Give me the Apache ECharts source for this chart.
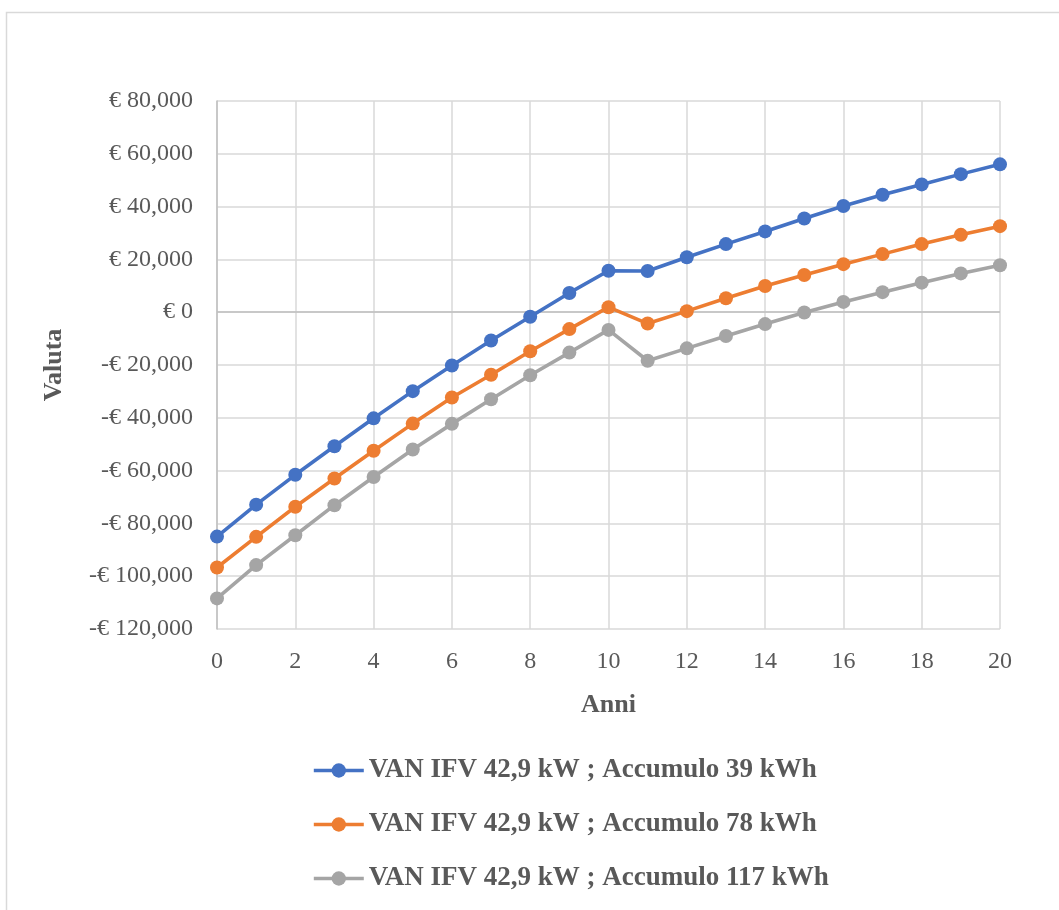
<!DOCTYPE html>
<html>
<head>
<meta charset="utf-8">
<script src="https://cdn.jsdelivr.net/npm/echarts@6/dist/echarts.min.js"></script>
<style>
html,body{margin:0;padding:0;background:#fff;}
#chart{width:1059px;height:910px;}
</style>
</head>
<body>
<div id="chart"></div>
<script>
var years = [0,1,2,3,4,5,6,7,8,9,10,11,12,13,14,15,16,17,18,19,20];
var seriesNames = [
  'VAN IFV 42,9 kW ; Accumulo 39 kWh',
  'VAN IFV 42,9 kW ; Accumulo 78 kWh',
  'VAN IFV 42,9 kW ; Accumulo 117 kWh'
];
var van39 = [-85000,-72900,-61600,-50800,-40200,-29900,-20200,-10700,-1700,7300,15700,15600,20800,25800,30600,35500,40200,44500,48400,52300,56000];
var van78 = [-96700,-85100,-73700,-63000,-52500,-42200,-32300,-23700,-14800,-6400,1900,-4300,400,5300,9900,14100,18200,22000,25800,29300,32600];
var van117 = [-108400,-95800,-84500,-73100,-62400,-52000,-42300,-33000,-23900,-15300,-6700,-18400,-13700,-9000,-4500,-100,3900,7600,11200,14700,17800];
var colors = ['#4472C4','#ED7D31','#A5A5A5'];
var yTicks = {min:-120000, max:80000, interval:20000};
var xTicks = {min:0, max:20, interval:2};

function pairs(arr){ return years.map(function(y,i){ return [y, arr[i]]; }); }
function fmtEuro(v){
  var a = Math.abs(v).toLocaleString('en-US');
  return (v < 0 ? '-€ ' : '€ ') + a;
}
var font = '"Liberation Serif", "DejaVu Serif", serif';
var chart = echarts.init(document.getElementById('chart'), null, {renderer:'canvas'});
var data = [van39, van78, van117];
var series = data.map(function(arr, i){
  var s = {
    name: seriesNames[i],
    type: 'line',
    data: pairs(arr),
    symbol: 'circle',
    symbolSize: 14,
    lineStyle: {color: colors[i], width: 3.6},
    itemStyle: {color: colors[i]},
    z: 10 - i
  };
  if (i === 0) {
    s.markLine = {
      silent: true, symbol: 'none', label: {show:false},
      lineStyle: {color:'#bfbfbf', width:1.5, type:'solid'},
      data: [{yAxis: 0}], z: 1
    };
  }
  return s;
});
chart.setOption({
  animation: false,
  backgroundColor: '#fff',
  color: colors,
  graphic: [{
    type: 'rect', shape: {x: 6.5, y: 12.5, width: 1100, height: 1000},
    style: {fill: 'none', stroke: '#d9d9d9', lineWidth: 1.5}, silent: true
  }],
  grid: {left: 217, right: 59, top: 101, bottom: 281},
  xAxis: {
    type: 'value', min: xTicks.min, max: xTicks.max, interval: xTicks.interval,
    name: 'Anni', nameLocation: 'middle', nameGap: 63,
    nameTextStyle: {fontFamily: font, fontWeight: 'bold', fontSize: 26, color: '#595959'},
    axisLine: {show: false},
    axisTick: {show: false},
    axisLabel: {fontFamily: font, fontSize: 24, color: '#595959', margin: 21},
    splitLine: {show: true, lineStyle: {color: '#d9d9d9', width: 1.5}}
  },
  yAxis: {
    type: 'value', min: yTicks.min, max: yTicks.max, interval: yTicks.interval,
    name: 'Valuta', nameLocation: 'middle', nameGap: 150,
    nameTextStyle: {fontFamily: font, fontWeight: 'bold', fontSize: 26, color: '#595959'},
    axisLine: {show: true, lineStyle: {color: '#bfbfbf', width: 1.5}},
    axisTick: {show: false},
    axisLabel: {fontFamily: font, fontSize: 24, color: '#595959', margin: 24, formatter: fmtEuro},
    splitLine: {show: true, lineStyle: {color: '#d9d9d9', width: 1.5}}
  },
  legend: {
    orient: 'vertical', left: 307, top: 752, itemGap: 27,
    itemWidth: 50, itemHeight: 18,
    lineStyle: {width: 3.6},
    textStyle: {fontFamily: font, fontWeight: 'bold', fontSize: 27, color: '#595959'},
    data: seriesNames
  },
  series: series
});
</script>
</body>
</html>
